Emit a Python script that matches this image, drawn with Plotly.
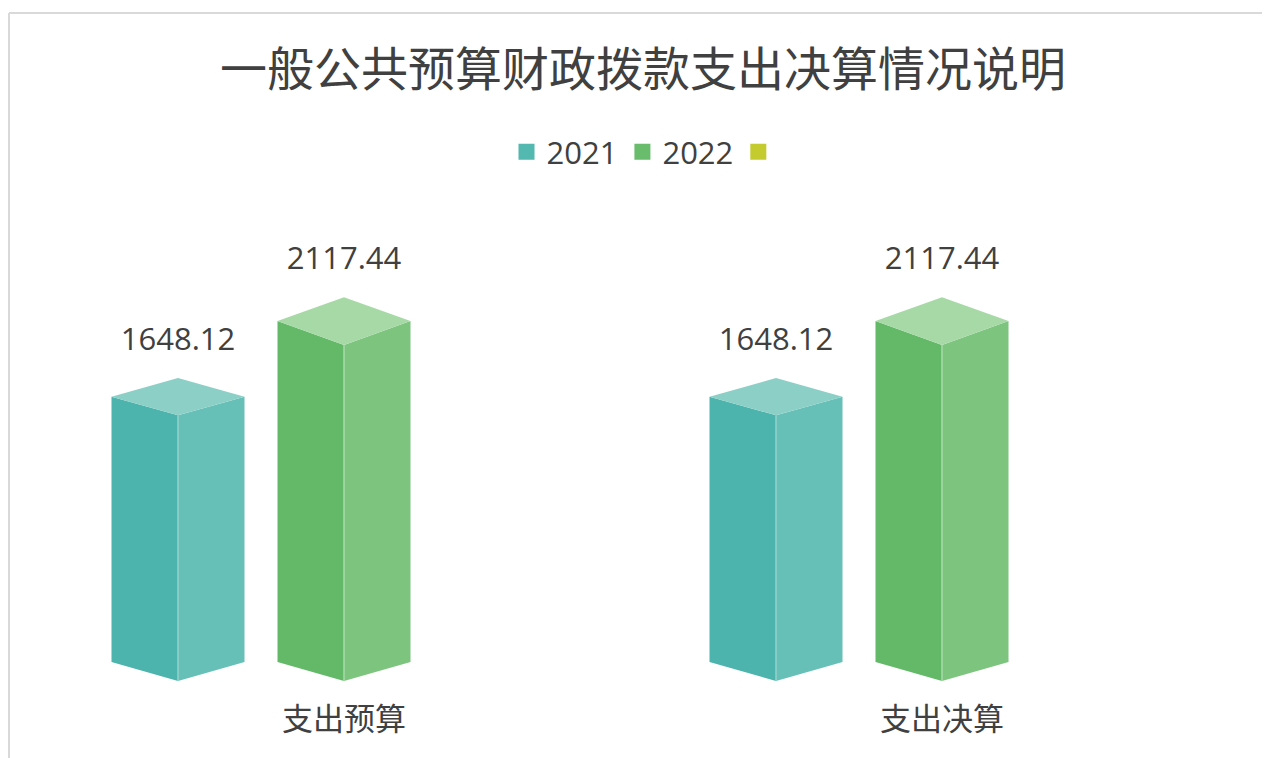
import plotly.graph_objects as go

# ---- data ----
categories = ["支出预算", "支出决算"]
series_names = ["2021", "2022"]
values_2021 = [1648.12, 1648.12]
values_2022 = [2117.44, 2117.44]
legend_extra = [""]

# ---- styling ----
SHIFT = 8                     # page body margin compensation
W, H = 1270 - SHIFT, 758 - SHIFT
PX_PER_UNIT = 0.161           # vertical pixels per value unit
BASE_PX = 662 - SHIFT         # pixel row of value 0 (side edges)
CAT0_PX, CAT_STEP_PX = 261 - SHIFT, 598
U = 1.0 / PX_PER_UNIT         # value units per pixel
HALF_W = 66.5 / CAT_STEP_PX   # half bar width in x units
OFFSET = 83 / CAT_STEP_PX     # bar middle offset from category center
BOTTOM_DROP = 19 * U
TOP_DROP_PER_UNIT = 0.0113 * U
LABEL_GAP = 36 * U

colors = {
    "2021": {"left": "#4CB3AD", "right": "#67C0B8", "top": "#8BCFC6", "edge": "#93D3CB", "legend": "#52B8B0"},
    "2022": {"left": "#64B969", "right": "#7DC47F", "top": "#A7D9A6", "edge": "#A9DBA9", "legend": "#68BC6C"},
}
extra_color = "#C3CB2E"
text_color = "#404040"
FONT = "Open Sans, Noto Sans CJK SC, sans-serif"

fig = go.Figure()

series = [("2021", values_2021, -OFFSET), ("2022", values_2022, OFFSET)]

for name, vals, off in series:
    c = colors[name]
    for i, v in enumerate(vals):
        xc = i + off
        dT = v * TOP_DROP_PER_UNIT
        # left face
        fig.add_trace(go.Scatter(
            x=[xc - HALF_W, xc - HALF_W, xc, xc, xc - HALF_W],
            y=[0, v, v - dT, -BOTTOM_DROP, 0],
            fill="toself", fillcolor=c["left"], mode="lines",
            line=dict(width=0, color=c["left"]), hoverinfo="skip", showlegend=False))
        # right face
        fig.add_trace(go.Scatter(
            x=[xc, xc, xc + HALF_W, xc + HALF_W, xc],
            y=[-BOTTOM_DROP, v - dT, v, 0, -BOTTOM_DROP],
            fill="toself", fillcolor=c["right"], mode="lines",
            line=dict(width=0, color=c["right"]), hoverinfo="skip", showlegend=False))
        # top face
        fig.add_trace(go.Scatter(
            x=[xc - HALF_W, xc, xc + HALF_W, xc, xc - HALF_W],
            y=[v, v + dT, v, v - dT, v],
            fill="toself", fillcolor=c["top"], mode="lines",
            line=dict(width=0, color=c["top"]), hoverinfo="skip", showlegend=False))
        # front edge highlight
        fig.add_trace(go.Scatter(
            x=[xc, xc], y=[-BOTTOM_DROP, v - dT], mode="lines",
            line=dict(width=1.5, color=c["edge"]), hoverinfo="skip", showlegend=False))
        # value label
        fig.add_trace(go.Scatter(
            x=[xc], y=[v + dT + LABEL_GAP], mode="text",
            text=[f"{v:.2f}"], textposition="middle center",
            textfont=dict(size=31, color=text_color, family=FONT),
            hoverinfo="skip", showlegend=False))

# category labels (under the 2022 bar middles, as in the reference)
fig.add_trace(go.Scatter(
    x=[i + OFFSET for i in range(len(categories))],
    y=[-60 * U] * len(categories),
    mode="text", text=categories, textposition="middle center",
    textfont=dict(size=31, color=text_color, family=FONT),
    hoverinfo="skip", showlegend=False))

# legend entries
for name in series_names:
    fig.add_trace(go.Scatter(
        x=[None], y=[None], mode="markers", name=name,
        marker=dict(symbol="square", size=16, color=colors[name]["legend"])))
for name in legend_extra:
    fig.add_trace(go.Scatter(
        x=[None], y=[None], mode="markers", name=name,
        marker=dict(symbol="square", size=16, color=extra_color)))

x_lo = -CAT0_PX / CAT_STEP_PX
x_hi = (W - CAT0_PX) / CAT_STEP_PX
y_lo = -(H - BASE_PX) * U
y_hi = BASE_PX * U

fig.update_layout(
    width=W, height=H,
    margin=dict(l=0, r=0, t=0, b=0, pad=0),
    paper_bgcolor="white", plot_bgcolor="white",
    title=dict(text="一般公共预算财政拨款支出决算情况说明",
               x=(643 - SHIFT) / W, xanchor="center", y=1 - (70 - SHIFT) / H, yanchor="middle",
               font=dict(size=47, color=text_color, family=FONT)),
    legend=dict(orientation="h", x=(645 - SHIFT) / W, xanchor="center", y=1 - (152 - SHIFT) / H, yanchor="middle",
                font=dict(size=31, color=text_color, family=FONT),
                itemwidth=30, tracegroupgap=0, bgcolor="rgba(0,0,0,0)"),
    xaxis=dict(range=[x_lo, x_hi], visible=False, fixedrange=True),
    yaxis=dict(range=[y_lo, y_hi], visible=False, fixedrange=True),
    shapes=[
        dict(type="line", xref="paper", yref="paper", x0=(9 - SHIFT) / W, x1=1,
             y0=1 - (13 - SHIFT) / H, y1=1 - (13 - SHIFT) / H,
             line=dict(color="#D9D9D9", width=2)),
        dict(type="line", xref="paper", yref="paper", x0=(9 - SHIFT) / W, x1=(9 - SHIFT) / W,
             y0=0, y1=1 - (13 - SHIFT) / H,
             line=dict(color="#D9D9D9", width=2)),
    ],
)

fig.write_html("out.html")
